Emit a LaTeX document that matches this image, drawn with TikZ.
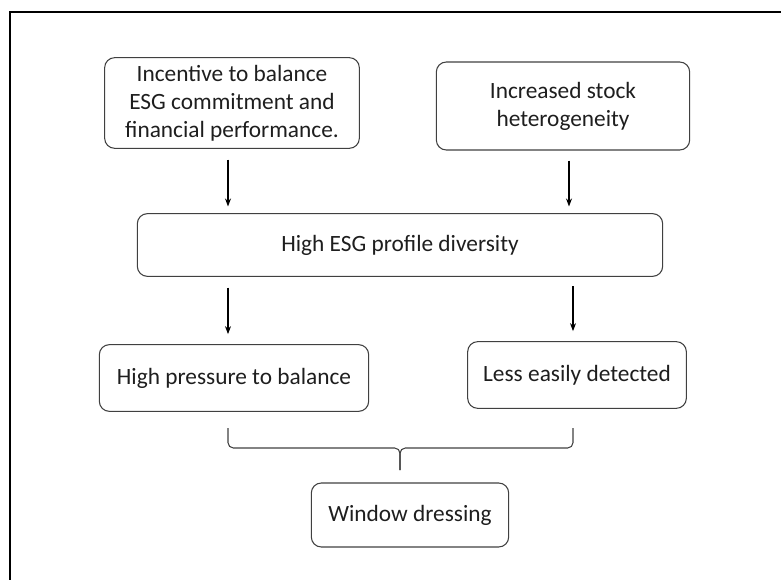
\documentclass[tikz,border=0pt]{standalone}
\usepackage{fontspec}
\setmainfont{Carlito}
\usetikzlibrary{arrows.meta, positioning, calc}
\definecolor{boxline}{RGB}{64,64,64}
\definecolor{boxtext}{RGB}{30,30,30}

\begin{document}
\begin{tikzpicture}[x=0.75pt, y=-0.75pt,
    stage/.style={rectangle, draw=boxline, rounded corners=7.5pt, line width=0.8pt,
        text=boxtext, align=center, font=\fontsize{17.5}{21}\selectfont},
    arr/.style={-{Stealth[length=6pt, width=4.5pt]}, line width=0.8pt},
    brace/.style={rounded corners=4pt, line width=0.8pt, draw=boxline}]
    \useasboundingbox (0,0) rectangle (781,580);
    \clip (0,0) rectangle (781,580);
    \draw[line width=1.1pt] (10,12) rectangle (800,600);

    % top row
    \node[stage, minimum width=191pt, minimum height=68pt] (incent) at (232,103)
        {Incentive to balance\\ESG commitment and\\financial performance.};
    \node[stage, minimum width=190pt, minimum height=66pt] (hetero) at (563,106)
        {Increased stock\\heterogeneity};

    % middle
    \node[stage, minimum width=394pt, minimum height=47pt] (divers) at (400,245)
        {High ESG profile diversity};

    % lower row
    \node[stage, minimum width=202pt, minimum height=50pt] (press) at (234,378)
        {High pressure to balance};
    \node[stage, minimum width=164pt, minimum height=50pt] (detect) at (577,375)
        {Less easily detected};

    % result
    \node[stage, minimum width=148pt, minimum height=48pt] (window) at (410,515)
        {Window dressing};

    \draw[arr, shorten <=8pt, shorten >=5pt] ([xshift=-3pt]incent.south) -- ([xshift=-3pt]incent.south |- divers.north);
    \draw[arr, shorten <=7.5pt, shorten >=5pt] ([xshift=4.5pt]hetero.south) -- ([xshift=4.5pt]hetero.south |- divers.north);
    \draw[arr, shorten <=8pt, shorten >=7.5pt] ([xshift=-4.5pt]press.north |- divers.south) -- ([xshift=-4.5pt]press.north);
    \draw[arr, shorten <=7pt, shorten >=7.5pt] ([xshift=-3pt]detect.north |- divers.south) -- ([xshift=-3pt]detect.north);

    % brace joining both branches
    \coordinate (bl) at (228,428);
    \coordinate (br) at (573,428);
    \coordinate (join) at (400,448);
    \coordinate (tip) at (400,470);
    \draw[brace] (bl) |- (join) -- (tip);
    \draw[brace] (br) |- (join) -- (tip);
\end{tikzpicture}
\end{document}
